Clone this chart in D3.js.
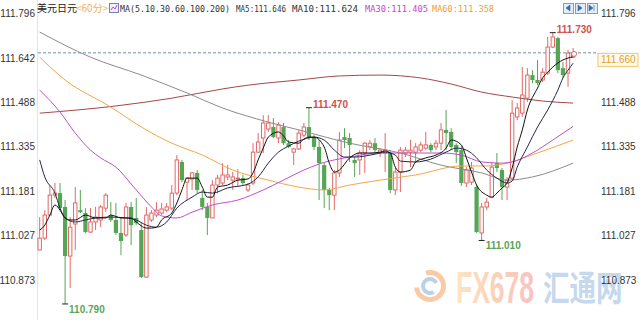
<!DOCTYPE html>
<html>
<head>
<meta charset="utf-8">
<script src="https://cdn.jsdelivr.net/npm/d3@7/dist/d3.min.js"></script>
<style>
html, body { margin: 0; padding: 0; background: #fff; }
svg { display: block; }
text { font-family: "Liberation Sans", Arial, sans-serif; }
</style>
</head>
<body>
<svg id="chart" width="640" height="320"></svg>
<script>
// USD/JPY 60 minute candles, oldest first
var opens = [110.977,111.018,111.098,111.167,111.174,111.126,110.956,111.067,111.115,111.105,
	111.039,111.074,111.081,111.122,111.098,111.081,111.036,111.029,111.126,111.088,
	111.046,110.883,111.081,111.098,111.105,111.115,111.122,111.174,111.282,111.212,
	111.223,111.244,111.157,111.126,111.088,111.202,111.209,111.230,111.219,111.223,
	111.226,111.185,111.209,111.316,111.365,111.396,111.403,111.365,111.403,111.347,
	111.316,111.327,111.375,111.403,111.368,111.334,111.271,111.185,111.167,111.244,
	111.368,111.365,111.289,111.289,111.313,111.334,111.347,111.313,111.313,111.313,
	111.185,111.247,111.313,111.316,111.316,111.323,111.330,111.341,111.334,111.347,
	111.393,111.386,111.341,111.323,111.209,111.212,111.195,111.036,111.126,111.160,
	111.278,111.254,111.195,111.226,111.438,111.451,111.503,111.583,111.566,111.566,
	111.590,111.680,111.711,111.607,111.590,111.645];
var highs = [111.091,111.115,111.202,111.209,111.209,111.150,111.091,111.195,111.185,111.122,
	111.122,111.126,111.133,111.174,111.143,111.140,111.091,111.140,111.143,111.157,
	111.074,111.126,111.115,111.143,111.140,111.140,111.202,111.306,111.289,111.230,
	111.247,111.254,111.185,111.140,111.219,111.237,111.278,111.271,111.247,111.257,
	111.237,111.209,111.347,111.382,111.444,111.444,111.434,111.420,111.417,111.358,
	111.330,111.393,111.417,111.470,111.375,111.358,111.278,111.192,111.254,111.386,
	111.399,111.382,111.299,111.323,111.351,111.358,111.365,111.330,111.382,111.323,
	111.261,111.334,111.334,111.358,111.347,111.351,111.386,111.347,111.358,111.417,
	111.462,111.399,111.347,111.337,111.264,111.282,111.202,111.140,111.157,111.282,
	111.313,111.261,111.230,111.496,111.486,111.611,111.607,111.600,111.635,111.607,
	111.715,111.730,111.715,111.628,111.670,111.677];
var lows = [110.977,111.011,111.098,111.157,111.115,110.790,110.845,110.977,111.105,111.036,
	111.036,111.046,111.056,111.108,111.074,111.029,110.959,111.022,110.994,111.063,
	110.880,110.880,111.074,111.091,111.098,111.108,111.115,111.167,111.212,111.150,
	111.185,111.174,111.115,111.029,111.088,111.174,111.202,111.219,111.185,111.195,
	111.202,111.178,111.202,111.313,111.313,111.386,111.365,111.347,111.341,111.330,
	111.271,111.323,111.368,111.358,111.323,111.150,111.122,111.115,111.115,111.230,
	111.330,111.282,111.230,111.237,111.244,111.323,111.316,111.299,111.247,111.174,
	111.167,111.178,111.299,111.264,111.278,111.316,111.323,111.316,111.323,111.323,
	111.323,111.323,111.278,111.199,111.195,111.202,111.036,111.010,111.115,111.157,
	111.247,111.150,111.150,111.219,111.427,111.438,111.490,111.555,111.548,111.559,
	111.583,111.677,111.590,111.573,111.542,111.642];
var closes = [111.018,111.098,111.167,111.174,111.122,110.956,111.056,111.140,111.108,111.039,
	111.074,111.091,111.126,111.167,111.081,111.036,111.008,111.126,111.063,111.070,
	110.883,111.098,111.105,111.115,111.119,111.126,111.174,111.289,111.219,111.226,
	111.244,111.185,111.126,111.088,111.202,111.226,111.237,111.237,111.230,111.226,
	111.209,111.202,111.316,111.351,111.417,111.417,111.368,111.410,111.347,111.334,
	111.327,111.382,111.403,111.368,111.334,111.278,111.185,111.167,111.244,111.358,
	111.358,111.341,111.278,111.313,111.347,111.347,111.323,111.323,111.323,111.185,
	111.247,111.323,111.323,111.323,111.334,111.341,111.341,111.323,111.347,111.393,
	111.382,111.334,111.316,111.209,111.254,111.261,111.039,111.126,111.143,111.264,
	111.261,111.195,111.219,111.451,111.469,111.514,111.583,111.566,111.555,111.593,
	111.680,111.715,111.600,111.583,111.659,111.660];

// moving averages: [candle index, price]
var ma5 = [[0,111.046],[1,111.063],[2,111.098],[3,111.133],[4,111.115],[5,111.088],[6,111.081],[7,111.081],[9,111.098],[11,111.088],
	[13,111.088],[14,111.098],[16,111.088],[18,111.088],[19,111.074],[21,111.053],[22,111.053],[23,111.056],[24,111.081],[26,111.105],
	[27,111.140],[28,111.185],[29,111.226],[31,111.226],[32,111.195],[33,111.160],[34,111.160],[35,111.195],[37,111.202],[39,111.219],
	[41,111.223],[42,111.244],[43,111.289],[44,111.330],[45,111.368],[47,111.386],[48,111.372],[49,111.351],[51,111.347],[52,111.361],
	[53,111.368],[54,111.368],[56,111.334],[57,111.278],[58,111.247],[59,111.254],[61,111.296],[63,111.313],[65,111.313],[67,111.316],
	[68,111.320],[69,111.313],[70,111.264],[71,111.247],[73,111.254],[74,111.282],[76,111.296],[78,111.306],[80,111.330],[81,111.358],
	[83,111.341],[84,111.296],[85,111.247],[86,111.202],[88,111.167],[89,111.160],[90,111.174],[91,111.192],[92,111.209],[93,111.261],
	[94,111.334],[95,111.393],[96,111.462],[98,111.538],[99,111.573],[100,111.593],[102,111.625],[104,111.642],[105,111.646]];
var ma10 = [[0,111.289],[1,111.230],[3,111.174],[4,111.122],[5,111.088],[7,111.074],[9,111.081],[11,111.088],[14,111.091],[17,111.088],
	[19,111.081],[21,111.063],[23,111.056],[25,111.074],[27,111.122],[30,111.160],[32,111.178],[34,111.174],[37,111.192],[41,111.205],
	[43,111.230],[45,111.278],[47,111.316],[49,111.337],[51,111.354],[54,111.368],[56,111.358],[58,111.323],[60,111.299],[62,111.299],
	[66,111.309],[68,111.316],[70,111.306],[71,111.285],[74,111.282],[77,111.292],[80,111.316],[82,111.330],[84,111.323],[86,111.296],
	[88,111.254],[90,111.226],[92,111.209],[93,111.216],[94,111.264],[96,111.334],[98,111.403],[100,111.462],[102,111.531],[103,111.573],
	[104,111.600],[105,111.624]];
var ma30 = [[0,111.531],[4,111.455],[7,111.382],[10,111.323],[12,111.296],[15,111.264],[19,111.185],[22,111.126],[24,111.095],[27,111.088],
	[30,111.108],[34,111.133],[39,111.150],[44,111.185],[48,111.219],[52,111.254],[55,111.275],[61,111.299],[67,111.313],[74,111.313],
	[79,111.313],[83,111.306],[87,111.282],[91,111.278],[93,111.282],[97,111.313],[101,111.358],[105,111.405]];
var ma60 = [[0,111.645],[5,111.566],[14,111.472],[20,111.403],[26,111.347],[32,111.306],[38,111.254],[45,111.219],[51,111.195],[56,111.185],
	[61,111.202],[67,111.219],[74,111.237],[83,111.268],[88,111.268],[92,111.278],[98,111.313],[105,111.358]];
var ma100 = [[0,111.732],[10,111.645],[20,111.583],[29,111.521],[36,111.469],[45,111.420],[51,111.393],[61,111.347],[71,111.313],[79,111.271],
	[87,111.244],[92,111.219],[97,111.230],[105,111.278]];
var ma200 = [[0,111.451],[15,111.476],[26,111.503],[36,111.535],[41,111.548],[51,111.566],[59,111.580],[67,111.583],[75,111.573],[81,111.552],
	[87,111.524],[93,111.507],[99,111.493],[105,111.486]];

var tickVals = [111.796, 111.642, 111.488, 111.335, 111.181, 111.027, 110.873];
var markIdx = [101, 53, 87, 5];
var markKind = ['high', 'high', 'low', 'low'];
var lastPrice = 111.660;

var titleParts = [
	{text: 'MA(5.10.30.60.100.200)', x: 120, len: 110, color: '#333'},
	{text: 'MA5:111.646', x: 236, len: 50, color: '#333'},
	{text: 'MA10:111.624', x: 292, len: 66, color: '#333'},
	{text: 'MA30:111.405', x: 365, len: 63, color: '#cc44cc'},
	{text: 'MA60:111.358', x: 432, len: 62, color: '#f0a030'}
];

var upColor = '#e06a66',
	downColor = '#55a555';

var svg = d3.select('#chart');

var x = d3.scaleLinear().domain([0, closes.length - 1]).range([39.7, 573.1]);
var y = d3.scaleLinear().domain([110.873, 111.796]).range([280, 13.6]);

// frame line on the left
svg.append('line')
	.attr('x1', 37.5).attr('x2', 37.5)
	.attr('y1', 0).attr('y2', 320)
	.style('stroke', '#e4e4e4');

// watermark
var wm = svg.append('g').style('opacity', 0.6);
var grad = svg.append('defs').append('linearGradient')
	.attr('id', 'fxgrad')
	.attr('x1', '0%').attr('x2', '100%');
grad.append('stop').attr('offset', '0%').attr('stop-color', '#fbd39c');
grad.append('stop').attr('offset', '50%').attr('stop-color', '#f8b48a');
grad.append('stop').attr('offset', '100%').attr('stop-color', '#f39c9c');

var arc = d3.arc();
wm.append('path')
	.attr('transform', 'translate(430,286)')
	.attr('d', arc({innerRadius: 11, outerRadius: 16, startAngle: -0.3, endAngle: 4.6}))
	.style('fill', '#f7a86e');
wm.append('path')
	.attr('transform', 'translate(430,286)')
	.attr('d', arc({innerRadius: 5, outerRadius: 9, startAngle: 2.6, endAngle: 7.4}))
	.style('fill', '#8fb3dd');
// tall narrow lettering: small font stretched upward
wm.append('text')
	.attr('transform', 'translate(456,303) scale(1,1.65)')
	.style('font-size', '26.5px')
	.style('font-weight', 'bold')
	.style('fill', 'url(#fxgrad)')
	.text('FX678');
wm.append('text')
	.attr('transform', 'translate(543,301) scale(1,1.35)')
	.style('font-family', '"Noto Sans CJK SC"')
	.style('font-size', '26.5px')
	.style('font-weight', 'bold')
	.style('fill', '#9fbfe3')
	.text('汇通网');

// last price dashed line
svg.append('line')
	.attr('x1', 38).attr('x2', 598)
	.attr('y1', y(lastPrice)).attr('y2', y(lastPrice))
	.style('stroke', '#6f8fb5')
	.style('stroke-width', 1)
	.style('stroke-dasharray', '3,2');

// candles
var candles = d3.range(closes.length).map(function(i){
	return {i: i, o: opens[i], h: highs[i], l: lows[i], c: closes[i], up: closes[i] >= opens[i]};
});

var cg = svg.append('g').selectAll('g')
	.data(candles)
	.join('g');

cg.append('line')
	.attr('x1', d => x(d.i)).attr('x2', d => x(d.i))
	.attr('y1', d => y(d.h)).attr('y2', d => y(d.l))
	.style('stroke', d => d.up ? upColor : downColor)
	.style('stroke-width', 1);

cg.append('rect')
	.attr('x', d => x(d.i) - (d.up ? 1.7 : 2.1))
	.attr('width', d => d.up ? 3.4 : 4.2)
	.attr('y', d => y(Math.max(d.o, d.c)))
	.attr('height', d => Math.max(1, Math.abs(y(d.o) - y(d.c))))
	.style('fill', d => d.up ? '#fff' : downColor)
	.style('stroke', d => d.up ? upColor : 'none')
	.style('stroke-width', 1);

// moving averages
var maLine = d3.line()
	.x(d => x(d[0]))
	.y(d => y(d[1]))
	.curve(d3.curveMonotoneX);

var maSeries = [
	{data: ma200, color: '#a34848'},
	{data: ma100, color: '#8c8c8c'},
	{data: ma60, color: '#f2a745'},
	{data: ma30, color: '#c24fcc'},
	{data: ma10, color: '#262650'},
	{data: ma5, color: '#111'}
];

svg.append('g').selectAll('path')
	.data(maSeries)
	.join('path')
	.attr('d', d => maLine(d.data))
	.style('fill', 'none')
	.style('stroke', d => d.color)
	.style('stroke-width', 1);

// current price marker
svg.append('circle')
	.attr('cx', x(closes.length - 1) + 1)
	.attr('cy', y(lastPrice) + 1)
	.attr('r', 2.5)
	.style('fill', '#fff')
	.style('stroke', upColor);

// extreme marks
var marks = markIdx.map(function(i, k){
	return {i: i, kind: markKind[k], v: markKind[k] == 'high' ? highs[i] : lows[i]};
});

var mg = svg.append('g').selectAll('g')
	.data(marks)
	.join('g');

mg.append('line')
	.attr('x1', d => x(d.i) - 3).attr('x2', d => x(d.i) + 3)
	.attr('y1', d => y(d.v)).attr('y2', d => y(d.v))
	.style('stroke', '#222');

mg.append('text')
	.attr('x', d => x(d.i) + 4)
	.attr('y', d => d.kind == 'high' ? y(d.v) + 0.5 : y(d.v) + 9)
	.style('font-size', '10px')
	.style('font-weight', 'bold')
	.style('fill', d => d.kind == 'high' ? '#d0504c' : '#5aa55a')
	.text(d => d3.format('.3f')(d.v));

// axes
var fmt = d => d3.format('.3f')(d);

// the price box covers the right-hand tick that sits under it
var boxTop = y(lastPrice) + 0.5;
var rightTicks = tickVals.filter(v => y(v) < boxTop - 6 || y(v) > boxTop + 19);

svg.append('g')
	.attr('transform', 'translate(37,0)')
	.call(d3.axisLeft(y).tickValues(tickVals).tickSize(0).tickPadding(2).tickFormat(fmt));
svg.append('g')
	.attr('transform', 'translate(599,0)')
	.call(d3.axisRight(y).tickValues(rightTicks).tickSize(0).tickPadding(2).tickFormat(fmt));

svg.selectAll('.domain').remove();
svg.selectAll('.tick text')
	.style('font-family', '"Liberation Sans", Arial, sans-serif')
	.style('font-size', '10px')
	.style('fill', '#333');

// last price box on the right axis
var box = svg.append('g').attr('transform', 'translate(598,' + boxTop + ')');
box.append('rect')
	.attr('width', 40).attr('height', 13)
	.style('fill', '#fffbe8')
	.style('stroke', '#f0c46a');
box.append('text')
	.attr('x', 3).attr('y', 10)
	.style('font-size', '10px')
	.style('fill', '#e0a030')
	.text(d3.format('.3f')(lastPrice));

// title row
svg.append('text')
	.attr('x', 37).attr('y', 12)
	.style('font-family', '"Noto Sans CJK SC"')
	.style('font-size', '10px')
	.style('fill', '#222')
	.text('美元日元');
svg.append('text')
	.attr('x', 76).attr('y', 12)
	.style('font-family', '"Noto Sans CJK SC"')
	.style('font-size', '10px')
	.style('fill', '#f5b050')
	.text('<60分>');

var icon = svg.append('g').attr('transform', 'translate(109,3)');
icon.append('rect')
	.attr('x', 0.5).attr('y', 0.5)
	.attr('width', 9).attr('height', 9)
	.style('fill', '#eef0fb')
	.style('stroke', '#7480c4');
icon.append('path')
	.attr('d', 'M2,7 L4,4 L6,6 L8,2')
	.style('fill', 'none')
	.style('stroke', '#c050c0');

svg.append('g').selectAll('text')
	.data(titleParts)
	.join('text')
	.attr('x', d => d.x)
	.attr('y', 12)
	.attr('textLength', d => d.len)
	.attr('lengthAdjust', 'spacingAndGlyphs')
	.style('font-family', '"DejaVu Sans Mono", monospace')
	.style('font-size', '9px')
	.style('fill', d => d.color)
	.text(d => d.text);

// small navigation buttons at top right
var btns = svg.append('g').selectAll('g')
	.data(['M3,5 L7,2 L7,8 Z', 'M3,2 L7,5 L3,8 Z', 'M2,2 L6,5 L2,8 Z M7,2 L7,8'])
	.join('g')
	.attr('transform', (d, i) => 'translate(' + (563 + i * 12) + ',3)');
btns.append('rect')
	.attr('x', 0.5).attr('y', 0.5)
	.attr('width', 10).attr('height', 10)
	.style('fill', '#e2edf8')
	.style('stroke', '#7d9ec8');
btns.append('path')
	.attr('d', d => d)
	.style('fill', '#3a6aa8')
	.style('stroke', '#3a6aa8')
	.style('stroke-width', 0.6);
</script>
</body>
</html>
